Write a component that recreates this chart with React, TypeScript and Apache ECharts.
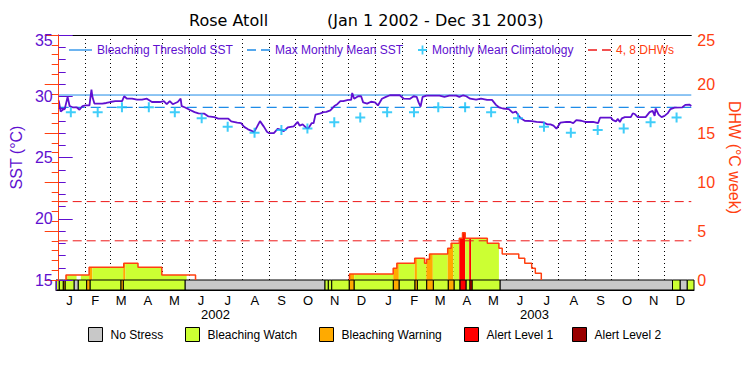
import React, { useEffect, useRef } from "react";
import * as echarts from "echarts";

// ---------------- DATA ----------------
const MONTH_LETTERS = ["J","F","M","A","M","J","J","A","S","O","N","D","J","F","M","A","M","J","J","A","S","O","N","D"];
const YEARS = [2002, 2003];

// SST (°C) : [day since Jan 1 2002, value]
const SST_POINTS: [number, number][] = [
  [0, 29.67], [2.3, 28.75], [4.6, 28.9], [6.9, 28.95], [10.3, 29.95], [12.6, 29.2], [16.0, 29.1], [20.6, 29.1],
  [24.0, 28.9], [27.5, 29.2], [30.9, 29.25], [35.5, 29.25], [37.8, 30.55], [38.9, 29.95], [41.2, 29.4], [50.3, 29.4],
  [54.9, 29.45], [59.5, 29.53], [65.2, 29.6], [73.2, 29.6], [75.5, 30.0], [78.9, 29.8], [84.7, 29.8], [90.4, 29.72],
  [96.1, 29.72], [101.8, 29.8], [107.6, 29.53], [116.7, 29.53], [121.3, 29.6], [124.7, 29.35], [128.2, 29.6], [131.6, 29.35],
  [137.3, 29.53], [140.7, 29.8], [141.9, 29.2], [145.3, 29.1], [151.0, 28.9], [156.8, 28.7], [161.3, 28.6], [168.2, 28.58],
  [172.8, 28.35], [179.6, 28.3], [184.2, 28.17], [195.7, 28.17], [199.1, 27.95], [206.0, 27.85], [210.5, 27.8], [214.0, 27.5],
  [218.5, 27.3], [222.0, 27.2], [225.4, 27.07], [228.8, 27.5], [232.3, 27.97], [236.9, 27.5], [240.3, 27.1], [242.6, 26.99],
  [248.3, 26.99], [252.9, 27.35], [256.3, 27.25], [259.7, 27.15], [264.3, 27.45], [271.2, 27.55], [275.8, 27.9], [278.0, 27.6],
  [281.5, 27.7], [286.1, 27.4], [288.3, 27.4], [291.8, 27.8], [294.1, 27.8], [296.3, 28.5], [302.1, 28.6], [305.5, 28.7],
  [308.9, 28.72], [313.5, 28.85], [318.1, 29.2], [321.5, 29.35], [325.0, 29.6], [328.4, 29.6], [334.1, 29.7], [337.5, 29.7],
  [338.7, 30.27], [341.0, 29.8], [345.5, 30.0], [349.0, 30.0], [351.3, 29.5], [355.9, 29.4], [360.4, 29.55], [365.0, 29.5],
  [368.4, 29.25], [373.0, 29.8], [377.6, 29.95], [382.2, 30.08], [393.6, 30.08], [398.2, 29.8], [405.1, 29.78], [409.6, 30.0],
  [413.1, 29.95], [415.3, 29.5], [417.6, 29.15], [419.9, 29.95], [424.5, 30.05], [439.4, 30.05], [445.1, 29.95], [450.8, 30.05],
  [458.8, 30.05], [462.3, 29.95], [466.8, 30.08], [470.3, 30.0], [474.8, 29.8], [481.7, 29.72], [487.4, 29.8], [494.3, 29.7],
  [500.0, 29.7], [504.6, 29.3], [508.0, 29.1], [512.6, 29.0], [519.5, 28.95], [524.0, 28.65], [527.5, 28.75], [530.9, 28.4],
  [533.2, 28.2], [537.8, 28.0], [545.8, 27.97], [551.5, 27.9], [559.5, 27.87], [564.1, 27.7], [567.5, 27.7], [571.0, 27.6],
  [574.4, 27.35], [579.0, 27.85], [585.8, 27.9], [590.4, 27.9], [593.8, 27.8], [597.3, 28.05], [603.0, 28.0], [607.6, 27.9],
  [616.7, 27.9], [622.4, 27.8], [624.7, 28.25], [637.3, 28.25], [639.6, 28.05], [643.0, 27.95], [645.3, 28.15], [647.6, 27.9],
  [649.9, 28.2], [653.3, 28.3], [660.2, 28.3], [662.5, 28.6], [664.8, 28.55], [668.2, 28.3], [677.3, 28.3], [681.9, 28.7],
  [685.4, 28.8], [687.7, 28.4], [688.8, 29.0], [692.3, 28.5], [695.7, 28.3], [699.1, 28.4], [702.6, 28.6], [706.0, 28.95],
  [710.6, 29.07], [719.7, 29.1], [723.1, 29.3], [727.7, 29.32], [730, 29.2],
];

// Monthly mean climatology (Jan..Dec)
const CLIMATOLOGY = [28.69, 28.69, 29.1, 29.1, 28.69, 28.2, 27.51, 27.02, 27.24, 27.36, 27.87, 28.27];
const MMM = 29.1;
const BLEACHING_THRESHOLD = 30.1;
const DHW_LEVELS = [4, 8];

// Degree heating weeks step function: [day, value from this day on]
const DHW_STEPS: [number, number][] = [
  [0, 0], [8.4, 0.5], [35.1, 1.29], [75.1, 1.7], [91.5, 1.29], [119, 0.51], [157.9, 0],
  [335.6, 0.61], [386, 1.19], [390.2, 1.7], [410.8, 2.21], [422.2, 1.7], [424.5, 2.11], [427.9, 2.65],
  [448.9, 3.23], [452.8, 3.74], [462.3, 4.25], [466.0, 4.83], [469.1, 4.25], [494.6, 3.74], [508, 3.23],
  [511.8, 2.65], [530.9, 2.21], [537.8, 1.7], [545.8, 1.19], [550.0, 0.68], [556.9, 0],
];

// Stress level periods: [start day, end day, level]
const STRESS_PERIODS: [number, number, number][] = [
  [0, 3.8, 1], [3.8, 8.4, 1], [8.4, 10.3, 2], [10.3, 20.6, 1], [20.6, 25.5, 0], [25.5, 35.1, 1],
  [35.1, 38.9, 2], [38.9, 74.4, 1], [74.4, 77, 2], [77, 147.6, 1], [147.6, 307.8, 0],
  [307.8, 311.6, 1], [311.6, 315.5, 1], [315.5, 335.6, 1], [335.6, 341, 2], [341, 386, 1],
  [386, 392.5, 2], [392.5, 410.8, 1], [410.8, 413.4, 2], [413.4, 424.2, 1], [424.2, 431.7, 2],
  [431.7, 448.9, 1], [448.9, 455.4, 2], [455.4, 462.3, 1], [462.3, 469.1, 3], [469.1, 473.7, 1],
  [473.7, 476, 3], [476, 508, 1], [508, 705.4, 0], [705.4, 714, 1], [714, 722.3, 0], [722.3, 730, 1],
];

const LEVEL_NAMES = ["No Stress", "Bleaching Watch", "Bleaching Warning", "Alert Level 1", "Alert Level 2"];
const LEVEL_COLORS = ["#C8C8C8", "#CCFF33", "#FFAA00", "#FF0000", "#990000"];

// ---------------- STYLE ----------------
const PURPLE = "#6010D0";
const ORANGE = "#FF4010";
const BLUE = "#1E8CE8";
const CYAN = "#10C0F8";
const RED_DASH = "#EE1818";
const FONT = "Liberation Sans";
const SOLID_ICON = "path://M0,0h23v1.3h-23z";
const DASH_ICON = "path://M0,0h9v1.3h-9zM14,0h9v1.3h-9z";

// ---------------- CALENDAR ----------------
const T0 = Date.UTC(2002, 0, 1);
const MS_DAY = 86400000;
const TOTAL_DAYS = (Date.UTC(2004, 0, 1) - T0) / MS_DAY;
const MONTH_STARTS: number[] = [];
YEARS.forEach((y) => {
  for (let m = 0; m < 12; m++) MONTH_STARTS.push((Date.UTC(y, m, 1) - T0) / MS_DAY);
});
const MONTH_ENDS = MONTH_STARTS.map((s, i) => (i + 1 < MONTH_STARTS.length ? MONTH_STARTS[i + 1] : TOTAL_DAYS));
const MONTH_MIDS = MONTH_STARTS.map((s, i) => (s + MONTH_ENDS[i]) / 2);
const YEAR_MIDS = YEARS.map((y) => ((Date.UTC(y, 0, 1) + Date.UTC(y + 1, 0, 1)) / 2 - T0) / MS_DAY);

function dhwAt(d: number): number {
  let v = 0;
  for (const [day, val] of DHW_STEPS) {
    if (day <= d) v = val;
    else break;
  }
  return v;
}

function buildOption() {
  const climData = MONTH_STARTS.map((s, i) => [s + 14, CLIMATOLOGY[i % 12]]);

  const outline: (number | null)[][] = [];
  DHW_STEPS.forEach(([d, v], i) => {
    const prev = i > 0 ? DHW_STEPS[i - 1][1] : 0;
    if (v > 0 && prev === 0) outline.push([d, 0]);
    if (v > 0 || prev > 0) outline.push([d, v]);
    if (v === 0 && prev > 0) outline.push([d, null]);
  });

  const dhwLineData: (number | null)[][] = [];
  DHW_LEVELS.forEach((v) => {
    dhwLineData.push([0, v], [TOTAL_DAYS, v], [TOTAL_DAYS, null]);
  });

  const fillSeries = {
    type: "custom",
    name: "fill",
    xAxisIndex: 0,
    yAxisIndex: 1,
    z: 1,
    silent: true,
    encode: { x: [0, 1], y: 2 },
    data: STRESS_PERIODS.map((p) => p.slice()),
    renderItem: (params: any, api: any) => {
      const s = api.value(0);
      const e = api.value(1);
      const lvl = api.value(2);
      if (!lvl) return { type: "group", children: [] };
      const pts: number[][] = [];
      let v = dhwAt(s);
      if (v <= 0 && DHW_STEPS.every(([d]) => !(d > s && d < e))) return { type: "group", children: [] };
      pts.push(api.coord([s, 0]));
      pts.push(api.coord([s, v]));
      DHW_STEPS.forEach(([d]) => {
        if (d > s && d < e) {
          pts.push(api.coord([d, v]));
          v = dhwAt(d);
          pts.push(api.coord([d, v]));
        }
      });
      pts.push(api.coord([e, v]));
      pts.push(api.coord([e, 0]));
      return { type: "polygon", shape: { points: pts }, style: { fill: LEVEL_COLORS[lvl] } };
    },
  };

  const stressSeries = LEVEL_NAMES.map((name, k) => ({
    type: "custom",
    name,
    xAxisIndex: 2,
    yAxisIndex: 2,
    z: 2,
    encode: { x: [0, 1], y: 2 },
    itemStyle: { color: LEVEL_COLORS[k], borderColor: "#000", borderWidth: 1 },
    data: STRESS_PERIODS.filter((p) => p[2] === k).map((p) => p.slice()),
    renderItem: (params: any, api: any) => {
      const s = api.value(0);
      const e = api.value(1);
      const p0 = api.coord([s, 0]);
      const p1 = api.coord([e, 1]);
      return {
        type: "rect",
        shape: { x: p0[0], y: p1[1], width: p1[0] - p0[0], height: p0[1] - p1[1] },
        style: { fill: LEVEL_COLORS[k], stroke: "#000", lineWidth: 1 },
      };
    },
  }));

  const topLegend = (name: string, left: number, w: number, h: number, color: string, icon?: string) => ({
    left,
    top: 44,
    padding: 0,
    selectedMode: false,
    itemWidth: w,
    itemHeight: h,
    ...(icon ? { icon } : {}),
    data: [name],
    textStyle: { color, fontSize: 12, fontFamily: FONT },
  });
  const bottomLefts = [88, 185, 319, 464, 572];
  const bottomLegends = LEVEL_NAMES.map((name, k) => ({
    left: bottomLefts[k],
    top: 327,
    padding: 0,
    selectedMode: false,
    icon: "rect",
    itemWidth: 14,
    itemHeight: 14,
    itemStyle: { borderColor: "#000", borderWidth: 1 },
    data: [name],
    textStyle: { color: "#000", fontSize: 12, fontFamily: FONT, padding: [0, 0, 0, 3] },
  }));

  const monthLabelMap = new Map<number, string>();
  MONTH_MIDS.forEach((m, i) => monthLabelMap.set(m, MONTH_LETTERS[i]));
  const yearLabelMap = new Map<number, string>();
  YEAR_MIDS.forEach((m, i) => yearLabelMap.set(m, String(YEARS[i])));

  const titleStyle = { fontSize: 16, fontWeight: "normal", color: "#000", fontFamily: "DejaVu Sans" };

  return {
    animation: false,
    backgroundColor: "#fff",
    textStyle: { fontFamily: FONT },
    title: [
      { text: "Rose Atoll", left: 189, top: 12, padding: 0, textStyle: titleStyle },
      { text: "(Jan 1 2002 - Dec 31 2003)", left: 327, top: 12, padding: 0, textStyle: titleStyle },
    ],
    legend: [
      topLegend("Bleaching Threshold SST", 69, 23, 1.3, PURPLE, SOLID_ICON),
      topLegend("Max Monthly Mean SST", 247, 23, 1.3, PURPLE, DASH_ICON),
      topLegend("Monthly Mean Climatology", 418, 9, 9, PURPLE),
      topLegend("4, 8 DHWs", 588, 23, 1.3, ORANGE, DASH_ICON),
      ...bottomLegends,
    ],
    grid: [
      { left: 56, top: 35, width: 638, height: 245 },
      { left: 56, top: 280, width: 638, height: 10 },
    ],
    xAxis: [
      {
        type: "value", gridIndex: 0, min: 0, max: TOTAL_DAYS, position: "bottom",
        axisLine: { show: false },
        axisTick: { show: false, customValues: MONTH_STARTS.slice(1) },
        axisLabel: { show: false },
        splitLine: { show: true, lineStyle: { color: "#000", width: 1, type: [1, 3] } },
      },
      {
        type: "value", gridIndex: 0, min: 0, max: TOTAL_DAYS, position: "top",
        axisLine: { show: true, onZero: false, lineStyle: { color: "#000", width: 1 } },
        axisTick: { show: false }, axisLabel: { show: false }, splitLine: { show: false },
      },
      {
        type: "value", gridIndex: 1, min: 0, max: TOTAL_DAYS, position: "bottom",
        axisLine: { show: true, onZero: false, lineStyle: { color: "#000", width: 1 } },
        axisTick: { show: false },
        axisLabel: {
          show: true, customValues: MONTH_MIDS, margin: 4, color: "#000", fontSize: 13, fontFamily: FONT,
          formatter: (v: number) => monthLabelMap.get(v) ?? "",
        },
        splitLine: { show: false },
      },
      {
        type: "value", gridIndex: 1, min: 0, max: TOTAL_DAYS, position: "bottom",
        axisLine: { show: false }, axisTick: { show: false },
        axisLabel: {
          show: true, customValues: YEAR_MIDS, margin: 18, color: "#000", fontSize: 13, fontFamily: FONT,
          formatter: (v: number) => yearLabelMap.get(v) ?? "",
        },
        splitLine: { show: false },
      },
    ],
    yAxis: [
      {
        type: "value", gridIndex: 0, position: "left", min: 15, max: 35, interval: 5, z: 5,
        name: "SST (°C)", nameLocation: "middle", nameGap: 29,
        nameTextStyle: { color: PURPLE, fontSize: 16, fontFamily: FONT },
        axisLine: { show: true, lineStyle: { color: PURPLE, width: 1 } },
        axisTick: { show: true, inside: true, length: 14, lineStyle: { color: PURPLE } },
        minorTick: { show: true, splitNumber: 5, length: 7, lineStyle: { color: PURPLE } },
        axisLabel: {
          color: PURPLE, fontSize: 16, margin: 6, fontFamily: FONT,
          formatter: (v: number) => (v === 35 ? "{t|35}" : String(v)),
          rich: { t: { color: PURPLE, fontSize: 16, fontFamily: FONT, padding: [10, 0, 0, 0] } },
        },
        splitLine: { show: false },
      },
      {
        type: "value", gridIndex: 0, position: "right", min: 0, max: 25, interval: 5, z: 5,
        name: "DHW (°C week)", nameLocation: "middle", nameGap: 30, nameRotate: -90,
        nameTextStyle: { color: ORANGE, fontSize: 16, fontFamily: FONT },
        axisLine: { show: true, lineStyle: { color: ORANGE, width: 1 } },
        axisTick: { show: true, inside: true, length: 14, lineStyle: { color: ORANGE } },
        minorTick: { show: true, splitNumber: 5, length: 7, lineStyle: { color: ORANGE } },
        axisLabel: {
          color: ORANGE, fontSize: 16, margin: 6, fontFamily: FONT,
          formatter: (v: number) => (v === 25 ? "{t|25}" : String(v)),
          rich: { t: { color: ORANGE, fontSize: 16, fontFamily: FONT, padding: [10, 0, 0, 0] } },
        },
        splitLine: { show: false },
      },
      {
        type: "value", gridIndex: 1, position: "left", min: 0, max: 1, z: 5,
        axisLine: { show: true, lineStyle: { color: PURPLE, width: 1 } },
        axisTick: { show: false }, axisLabel: { show: false }, splitLine: { show: false },
      },
    ],
    series: [
      fillSeries,
      {
        type: "line", name: "outline", xAxisIndex: 0, yAxisIndex: 1, z: 3, silent: true,
        step: "end", symbol: "none", connectNulls: false, data: outline,
        lineStyle: { color: ORANGE, width: 1.5 }, itemStyle: { color: ORANGE },
      },
      {
        type: "line", name: "4, 8 DHWs", xAxisIndex: 0, yAxisIndex: 1, z: 2, silent: true,
        symbol: "none", connectNulls: false, data: dhwLineData,
        lineStyle: { color: RED_DASH, width: 1, type: [9, 5] }, itemStyle: { color: RED_DASH },
      },
      {
        type: "line", name: "Bleaching Threshold SST", xAxisIndex: 0, yAxisIndex: 0, z: 3, silent: true,
        symbol: "none", data: [[0, BLEACHING_THRESHOLD], [TOTAL_DAYS, BLEACHING_THRESHOLD]],
        lineStyle: { color: BLUE, width: 1 }, itemStyle: { color: BLUE },
      },
      {
        type: "line", name: "Max Monthly Mean SST", xAxisIndex: 0, yAxisIndex: 0, z: 3, silent: true,
        symbol: "none", data: [[0, MMM], [TOTAL_DAYS, MMM]],
        lineStyle: { color: BLUE, width: 1.2, type: [10, 6] }, itemStyle: { color: BLUE },
      },
      {
        type: "scatter", name: "Monthly Mean Climatology", xAxisIndex: 0, yAxisIndex: 0, z: 5, silent: true,
        symbol: "path://M4,0h2v4h4v2h-4v4h-2v-4h-4v-2h4z", symbolSize: 10, data: climData,
        itemStyle: { color: CYAN },
      },
      {
        type: "line", name: "SST", xAxisIndex: 0, yAxisIndex: 0, z: 4, silent: true,
        symbol: "none", data: SST_POINTS,
        lineStyle: { color: PURPLE, width: 1.8 }, itemStyle: { color: PURPLE },
      },
      ...stressSeries,
    ],
  };
}

export default function App() {
  const ref = useRef<HTMLDivElement>(null);
  useEffect(() => {
    if (!ref.current) return;
    const chart = echarts.init(ref.current, undefined, { renderer: "svg" });
    chart.setOption(buildOption() as any);
    return () => chart.dispose();
  }, []);
  return (
    <div
      ref={ref}
      style={{ position: "fixed", left: 0, top: 0, width: 750, height: 375, background: "#fff" }}
    />
  );
}
